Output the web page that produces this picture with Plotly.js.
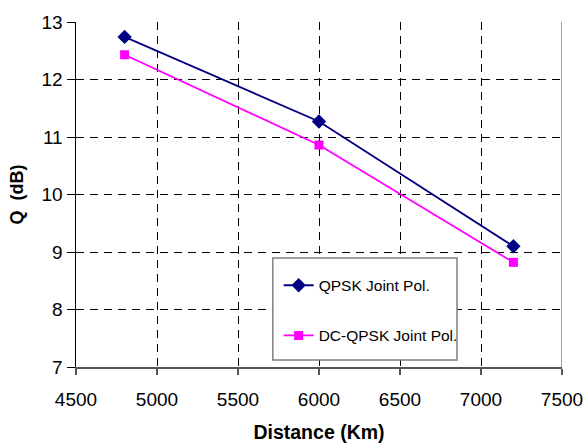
<!DOCTYPE html>
<html>
<head>
<meta charset="utf-8">
<script src="https://cdn.plot.ly/plotly-3.0.1.min.js"></script>
<style>html,body{margin:0;padding:0;background:#fff;}#chart{width:587px;height:446px;}</style>
</head>
<body>
<div id="chart"></div>
<script>
const distance = [4800, 6000, 7200];
const qpskJoint = [12.74, 11.27, 9.1];
const dcQpskJoint = [12.43, 10.86, 8.82];
const seriesNames = ["QPSK Joint Pol.", "DC-QPSK Joint Pol."];
const xTicks = [4500, 5000, 5500, 6000, 6500, 7000, 7500];
const yTicks = [7, 8, 9, 10, 11, 12, 13];

const font = "Liberation Sans, Arial, sans-serif";

const traces = [
  {
    x: distance, y: qpskJoint, name: seriesNames[0], type: "scatter", mode: "lines+markers",
    line: {color: "#000080", width: 1.8},
    marker: {symbol: "diamond", size: 11, color: "#000080"},
    legendgroup: "a"
  },
  {
    x: distance, y: dcQpskJoint, name: seriesNames[1], type: "scatter", mode: "lines+markers",
    line: {color: "#FF00FF", width: 1.8},
    marker: {symbol: "square", size: 9, color: "#FF00FF"},
    legendgroup: "b"
  }
];

const layout = {
  width: 587, height: 446,
  margin: {l: 76, r: 25, t: 22, b: 79},
  paper_bgcolor: "#fff", plot_bgcolor: "#fff",
  font: {family: font, color: "#000"},
  showlegend: true,
  legend: {
    x: 0.417, y: 0.285, xanchor: "left", yanchor: "top",
    bgcolor: "rgba(0,0,0,0)", borderwidth: 0,
    font: {family: font, size: 15.5, color: "#000"},
    tracegroupgap: 27
  },
  xaxis: {
    range: [4500, 7500], tickvals: xTicks, ticktext: xTicks.map(String),
    showgrid: true, gridcolor: "#000", gridwidth: 1, griddash: "8px,6px",
    showline: true, linecolor: "#555", linewidth: 1.5,
    ticks: "outside", ticklen: 6, tickcolor: "#555", tickwidth: 1.5,
    ticklabelstandoff: 9,
    zeroline: false,
    tickfont: {family: font, size: 19, color: "#000"},
    title: {text: "<b>Distance (Km)</b>", font: {family: font, size: 19.5, color: "#000"}, standoff: 16}
  },
  yaxis: {
    range: [7, 13], tickvals: yTicks, ticktext: yTicks.map(String),
    showgrid: true, gridcolor: "#000", gridwidth: 1, griddash: "8px,6px",
    showline: true, linecolor: "#000", linewidth: 1.5,
    ticks: "outside", ticklen: 8, tickcolor: "#000", tickwidth: 1,
    zeroline: false,
    tickfont: {family: font, size: 19, color: "#000"},
    title: {text: "<b>Q  (dB)</b>", font: {family: font, size: 18, color: "#000"}, standoff: 13}
  },
  shapes: [
    {type: "line", xref: "x", yref: "paper", x0: 7500, x1: 7500, y0: 0, y1: 1,
     line: {color: "#808080", width: 1.5}},
    {type: "rect", xref: "paper", yref: "paper", x0: 0.405, x1: 0.784, y0: 0.02, y1: 0.316,
     fillcolor: "#fff", line: {color: "#808080", width: 1.5}, layer: "above"}
  ]
};

Plotly.newPlot("chart", traces, layout, {displayModeBar: false, staticPlot: true});
</script>
</body>
</html>
